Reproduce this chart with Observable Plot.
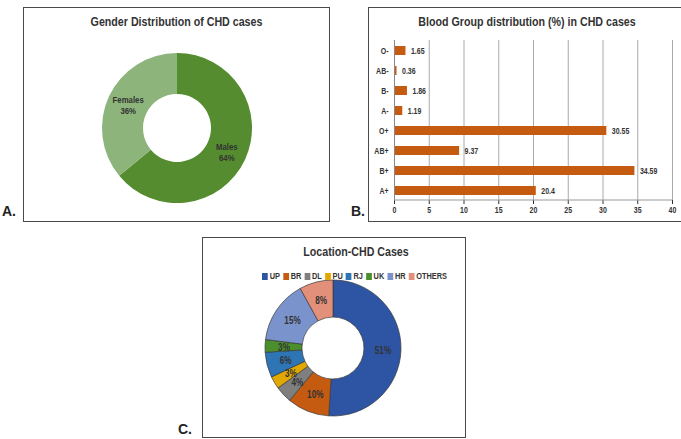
<!DOCTYPE html>
<html>
<head>
<meta charset="utf-8">
<script src="https://cdn.jsdelivr.net/npm/d3@7"></script>
<script src="https://cdn.jsdelivr.net/npm/@observablehq/plot@0.6"></script>
<style>
  html, body { margin: 0; padding: 0; background: #fff; }
  body { width: 681px; height: 439px; position: relative; overflow: hidden;
         font-family: "Liberation Sans", Arial, sans-serif; }
  .box { position: absolute; border: 1.5px solid #4a4a4a; box-sizing: border-box; }
  .title { position: absolute; font-weight: bold; color: #333; font-size: 13px; text-align: center;
           white-space: nowrap; transform: scaleX(0.82); transform-origin: center; }
  .tag { position: absolute; font-family: "Liberation Sans", Arial, sans-serif; font-weight: bold;
         font-size: 14px; color: #222; }
</style>
</head>
<body>
<script>
// ---------- DATA ----------
const genderLabels = ["Males", "Females"];
const genderValues = [64, 36];
const genderColors = ["#548C2F", "#8DB47A"];

const bloodGroups = ["O-", "AB-", "B-", "A-", "O+", "AB+", "B+", "A+"];
const bloodValues = [1.65, 0.36, 1.86, 1.19, 30.55, 9.37, 34.59, 20.4];
const bloodTicks = [0, 5, 10, 15, 20, 25, 30, 35, 40];
const bloodColor = "#C55A11";

const locations = ["UP", "BR", "DL", "PU", "RJ", "UK", "HR", "OTHERS"];
const locValues = [51, 10, 4, 3, 6, 3, 15, 8];
const locColors = ["#2E55A3", "#C55A11", "#7F7F7F", "#E0A800", "#2E75B6", "#4A8F2C", "#7B93CC", "#E3907A"];

const FONT = '"Liberation Sans", Arial, sans-serif';
const NARROW = 0.82;

// ---------- helpers ----------
function place(el, left, top) {
  el.style.position = "absolute";
  el.style.left = left + "px";
  el.style.top = top + "px";
  document.body.appendChild(el);
  return el;
}
function addBox(left, top, width, height) {
  const d = document.createElement("div");
  d.className = "box";
  d.style.left = left + "px"; d.style.top = top + "px";
  d.style.width = width + "px"; d.style.height = height + "px";
  document.body.appendChild(d);
  return d;
}
function addText(cls, left, top, width, text) {
  const d = document.createElement("div");
  d.className = cls;
  d.style.left = left + "px"; d.style.top = top + "px";
  if (width != null) d.style.width = width + "px";
  d.textContent = text;
  document.body.appendChild(d);
  return d;
}
// mimic a narrow (condensed) face by compressing each text run horizontally
function narrow(svg) {
  svg.querySelectorAll("text").forEach(t => {
    const ts = t.querySelectorAll("tspan");
    const targets = ts.length ? Array.from(ts) : [t];
    targets.forEach(el => {
      const L = el.getComputedTextLength();
      if (L > 0) {
        el.setAttribute("textLength", (L * NARROW).toFixed(2));
        el.setAttribute("lengthAdjust", "spacingAndGlyphs");
      }
    });
  });
}

function donut(labels, values, colors, R, r, S, opts) {
  const data = labels.map((l, i) => ({label: l, value: values[i]}));
  const pies = d3.pie().sort(null).value(d => d.value)(data);
  const cen = d3.arc().innerRadius(r).outerRadius(R);
  pies.forEach(p => { const c = cen.centroid(p); p.data.cx = c[0]; p.data.cy = c[1]; });
  const color = Plot.scale({color: {domain: labels, range: colors}});
  const arcsMark = (index, scales) => {
    const k = scales.x(1) - scales.x(0);
    const arc = d3.arc().innerRadius(r * k).outerRadius(R * k);
    const g = d3.create("svg:g").attr("transform", `translate(${scales.x(0)},${scales.y(0)})`);
    g.selectAll("path").data(pies).join("path")
      .attr("d", arc)
      .attr("fill", d => color.apply(d.data.label))
      .attr("stroke", opts.stroke || "none")
      .attr("stroke-width", opts.strokeWidth || 0);
    return g.node();
  };
  return Plot.plot({
    width: 2 * S, height: 2 * S,
    margin: 0,
    x: {domain: [-S, S], range: [0, 2 * S], axis: null},
    y: {domain: [-S, S], range: [0, 2 * S], axis: null},
    style: {background: "transparent", fontFamily: FONT, overflow: "visible"},
    marks: [
      arcsMark,
      Plot.text(data, {
        x: "cx", y: "cy", text: opts.text,
        fill: "#333", fontWeight: "bold", fontSize: opts.fontSize, lineHeight: 1.15
      })
    ]
  });
}

// ---------- Panel A ----------
addBox(23, 7, 307, 215);
addText("title", 23, 14, 307, "Gender Distribution of CHD cases");
addText("tag", 2, 203, null, "A.");
const svgA = place(donut(genderLabels, genderValues, genderColors, 75, 34, 80,
  {text: d => d.label + "\n" + d.value + "%", fontSize: 9.5}), 97, 48);
narrow(svgA);

// ---------- Panel B ----------
addBox(368, 7, 320, 215);
addText("title", 368, 14, 318, "Blood Group distribution (%) in CHD cases");
addText("tag", 351, 203, null, "B.");
const bloodData = bloodGroups.map((g, i) => ({group: g, value: bloodValues[i]}));
const bottomLine = (index, scales, values, dims) => {
  const y = dims.height - dims.marginBottom;
  return d3.create("svg:line")
    .attr("x1", dims.marginLeft).attr("x2", dims.width - dims.marginRight)
    .attr("y1", y).attr("y2", y).attr("stroke", "#999").node();
};
const plotB = Plot.plot({
  width: 312, height: 185,
  marginLeft: 26, marginRight: 8, marginTop: 5, marginBottom: 20,
  x: {domain: [0, 40], ticks: bloodTicks, label: null, tickSize: 4, tickPadding: 2, tickFormat: d => String(d)},
  y: {domain: bloodGroups, label: null, tickSize: 0, tickPadding: 6, paddingInner: 0.55, paddingOuter: 0.255},
  style: {background: "transparent", fontFamily: FONT, fontSize: "8.5px", fontWeight: "bold", color: "#333", overflow: "visible"},
  marks: [
    Plot.ruleX(bloodTicks, {stroke: "#aaa", strokeWidth: 1}),
    bottomLine,
    Plot.barX(bloodData, {x: "value", y: "group", fill: bloodColor}),
    Plot.text(bloodData, {x: "value", y: "group", text: d => String(d.value), dx: 5, textAnchor: "start",
      fill: "#333", fontWeight: "bold", fontSize: 8.5}),
    Plot.ruleX([0], {stroke: "#888"})
  ]
});
place(plotB, 368, 35);
narrow(plotB);

// ---------- Panel C ----------
addBox(202, 237, 264, 201);
addText("title", 202, 244, 308, "Location-CHD Cases");
addText("tag", 178, 421, null, "C.");
const svgC = place(donut(locations, locValues, locColors, 68, 31, 75,
  {text: d => d.value + "%", fontSize: 10, stroke: "#3a3a3a", strokeWidth: 0.7}), 258, 273);
narrow(svgC);
const leg = Plot.legend({
  color: {domain: locations, range: locColors},
  legend: "swatches", swatchSize: 7,
  style: {fontFamily: FONT, fontSize: "9px", fontWeight: "bold", color: "#333", background: "transparent"}
});
leg.style.minHeight = "0px";
leg.style.margin = "0";
leg.style.whiteSpace = "nowrap";
leg.style.transform = "scaleX(0.82)";
leg.style.transformOrigin = "left center";
leg.querySelectorAll("span").forEach(s => { s.style.marginRight = "3.5px"; });
leg.querySelectorAll("svg").forEach(s => { s.style.marginRight = "2.5px"; });
place(leg, 262, 271);
</script>
</body>
</html>
